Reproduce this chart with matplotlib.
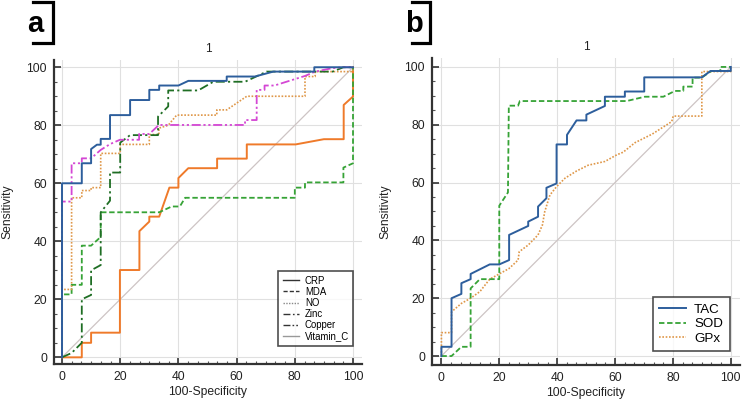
import matplotlib
matplotlib.use("Agg")
import matplotlib.pyplot as plt
from matplotlib.lines import Line2D
from matplotlib.ticker import MultipleLocator

plt.rcParams['font.family'] = ['Liberation Sans', 'DejaVu Sans']

# ---------------- Panel a data ----------------
crp_x = [0, 0, 6.8, 6.8, 10, 10, 12, 13.3, 13.3, 16.5, 16.5, 23.4, 23.4, 30, 30, 33.4, 33.4, 40, 43.4, 56.6, 56.6, 66.3, 72.6, 86.7, 86.7, 100]
crp_y = [0, 60, 60, 66.9, 66.9, 71.8, 73.3, 73.3, 75.3, 75.3, 83.5, 83.5, 88.7, 88.7, 92.2, 92.2, 93.7, 93.7, 95.3, 95.3, 96.8, 96.8, 98.5, 98.5, 100, 100]

mda_x = [0, 0, 3.3, 3.3, 6.8, 6.8, 10, 13.3, 13.3, 33.4, 37.7, 40.5, 42.3, 80, 80, 83.5, 83.5, 96.7, 96.7, 100, 100]
mda_y = [0, 21.7, 21.7, 25, 25, 38.5, 38.5, 41.5, 50, 50, 52, 52, 55, 55, 58.5, 58.5, 60.3, 60.3, 65.4, 66.9, 100]

no_x = [0, 0, 3.3, 3.3, 6.8, 6.8, 10, 10, 13.3, 13.3, 20, 20, 30, 30, 33.3, 33.3, 36.5, 39.4, 53.2, 53.2, 56.6, 63.5, 83.5, 83.5, 87, 87, 100, 100]
no_y = [0, 23.4, 23.4, 55, 55, 57.5, 57.5, 58.5, 58.5, 70.3, 70.3, 73.4, 73.4, 76.8, 76.8, 79, 80, 83.5, 83.5, 85.3, 85.3, 90, 90, 96.8, 96.8, 98.5, 98.5, 100]

zinc_x = [0, 3.3, 6.8, 6.8, 10, 10, 13.3, 13.3, 16.5, 16.5, 20, 20, 23.4, 33, 33, 36.5, 36.5, 46.8, 52, 62.9, 70.3, 93, 96.7, 100]
zinc_y = [0, 1.5, 5, 20, 21.5, 30, 31.8, 50, 54, 63.7, 63.7, 74, 76.6, 76.6, 83, 86.5, 92, 92, 95, 95, 98.5, 98.5, 100, 100]

copper_x = [0, 0, 3.3, 3.3, 6.8, 6.8, 10, 13.3, 16.5, 19.9, 26.5, 26.5, 30, 33.3, 62.9, 62.9, 66.9, 66.9, 69.6, 69.6, 73, 83.5, 87, 93, 96.7, 100]
copper_y = [0, 53.7, 53.7, 66.9, 66.9, 68.6, 68.6, 71.5, 73.5, 75, 75, 77, 77, 80.1, 80.1, 81.8, 81.8, 92.2, 92.2, 93.7, 93.7, 97, 98.5, 99.7, 100, 100]

vitc_x = [0, 6.8, 6.8, 10, 10, 19.9, 19.9, 26.6, 26.6, 30, 30, 33.4, 35.4, 36.9, 40, 40, 43.4, 53.3, 53.3, 63.5, 63.5, 80.3, 90, 96.8, 96.8, 100, 100]
vitc_y = [0, 0, 5, 5, 8.5, 8.5, 30.1, 30.1, 43.5, 46.8, 48.5, 48.5, 54.2, 58.5, 58.5, 61.8, 65.2, 65.2, 68.5, 68.5, 73.4, 73.4, 75.2, 75.2, 87, 89.9, 100]

legend_a = ["CRP", "MDA", "NO", "Zinc", "Copper", "Vitamin_C"]

# ---------------- Panel b data ----------------
tac_x = [0, 0, 3.5, 3.5, 6.9, 6.9, 10.1, 10.1, 16.7, 20, 23.4, 23.4, 30, 30, 33.4, 33.4, 36.3, 36.3, 39.8, 39.8, 43.4, 43.4, 46.7, 50.1, 50.1, 56.5, 56.5, 63.4, 63.4, 70.1, 70.1, 90, 93, 100, 100]
tac_y = [0, 3.2, 3.2, 20, 21.5, 25.2, 26.6, 28.4, 31.7, 31.7, 33.2, 41.9, 45, 46.5, 48.2, 51.7, 54.6, 58.2, 59.7, 73.2, 73.2, 76.5, 81.5, 81.5, 83.5, 86.5, 89.7, 89.7, 91.5, 91.5, 96.4, 96.4, 98.6, 98.6, 100]

sod_x = [0, 3.5, 6.9, 10.1, 10.1, 13.3, 20, 20, 23, 23.3, 26.5, 27.1, 64, 70.3, 76.7, 80.7, 83.6, 83.6, 86.8, 86.8, 89.9, 93.3, 96.4, 96.4, 100]
sod_y = [0, 0, 3.2, 3.2, 23.4, 26.6, 26.6, 52, 56.6, 86.6, 86.6, 88.2, 88.2, 89.7, 89.7, 91.7, 91.7, 93.2, 93.2, 96.3, 96.3, 98.6, 98.6, 100, 100]

gpx_x = [0, 0, 3.5, 3.5, 6.9, 10.1, 13.3, 16.7, 20, 23.4, 26.5, 26.9, 30, 33.4, 34.9, 35.7, 37.5, 39.8, 42.7, 46.7, 50.7, 56.5, 60.6, 62.8, 66.9, 72.9, 79.6, 80.1, 90, 90, 100, 100]
gpx_y = [0, 8.1, 8.1, 15.3, 18.2, 20, 22.3, 26.6, 28.4, 30.3, 33.2, 36.1, 38.4, 41.9, 45.3, 49.9, 55.7, 58.6, 61.5, 64, 66, 67.3, 69.6, 70.5, 73.8, 76.8, 81.1, 83, 83, 98.4, 98.4, 100]

legend_b = ["TAC", "SOD", "GPx"]

ref_line = [0, 100]

# ---------------- styles ----------------
BLUE = '#2d5e9c'
GREEN = '#36a336'
DKGREEN = '#1f6e24'
ORANGE = '#ef7a2a'
LORANGE = '#df9748'
MAGENTA = '#d447d4'
DIAG = '#cdc4c4'
SPINE = '#333333'

DASHDOT = (0, (5, 1.8, 1.2, 1.8))
DASHDOTDOT = (0, (5, 1.5, 1.2, 1.5, 1.2, 1.5))

fig = plt.figure(figsize=(7.5, 4.04), dpi=100)
axa = fig.add_axes([0.072, 0.099, 0.4107, 0.7525])
axb = fig.add_axes([0.576, 0.0965, 0.4107, 0.76])


def style_axes(ax, xlim, ylim):
    ax.set_xlim(*xlim)
    ax.set_ylim(*ylim)
    ax.xaxis.set_major_locator(MultipleLocator(20))
    ax.yaxis.set_major_locator(MultipleLocator(20))
    ax.xaxis.set_minor_locator(MultipleLocator(20 / 6))
    ax.yaxis.set_minor_locator(MultipleLocator(5))
    ax.grid(True, which='major', color='#e0e0e0', lw=0.8, zorder=0)
    ax.set_axisbelow(True)
    for s in ['top', 'right']:
        ax.spines[s].set_visible(False)
    for s in ['left', 'bottom']:
        ax.spines[s].set_color(SPINE)
        ax.spines[s].set_linewidth(1.6)
    ax.tick_params(which='major', direction='in', length=5, width=1.2, color=SPINE,
                   labelsize=8.7, pad=5, labelcolor='#222222')
    ax.tick_params(which='minor', direction='in', length=2.5, width=0.8, color='#555555')
    ax.set_title('1', fontsize=8.5, pad=6, color='#222222')
    ax.set_xlabel('100-Specificity', fontsize=8.7, color='#222222')
    ax.set_ylabel('Sensitivity', fontsize=8.7, color='#222222')
    ax.xaxis.set_label_coords(0.5, -0.072)
    ax.yaxis.set_label_coords(-0.133, 0.5)


style_axes(axa, (-2.75, 103.1), (-2.3, 102.5))
style_axes(axb, (-3.25, 103.2), (-3.1, 103.1))

# Panel a curves
axa.plot(ref_line, ref_line, color=DIAG, lw=0.9, zorder=1)
axa.plot(vitc_x, vitc_y, color=ORANGE, lw=1.4, zorder=2)
axa.plot(mda_x, mda_y, color=GREEN, lw=1.3, ls=(0, (3, 1.5)), zorder=2)
axa.plot(no_x, no_y, color=LORANGE, lw=1.2, ls=(0, (1, 1)), zorder=3)
axa.plot(zinc_x, zinc_y, color=DKGREEN, lw=1.3, ls=DASHDOT, zorder=3)
axa.plot(copper_x, copper_y, color=MAGENTA, lw=1.3, ls=DASHDOTDOT, zorder=3)
axa.plot(crp_x, crp_y, color=BLUE, lw=1.4, zorder=4)

handles_a = [
    Line2D([], [], color='#333333', lw=1.0, ls='-'),
    Line2D([], [], color='#333333', lw=1.0, ls=(0, (3, 1.5))),
    Line2D([], [], color='#888888', lw=1.0, ls=(0, (1, 1))),
    Line2D([], [], color='#333333', lw=1.0, ls=DASHDOT),
    Line2D([], [], color='#333333', lw=1.0, ls=DASHDOTDOT),
    Line2D([], [], color='#999999', lw=1.0, ls='-'),
]
leg_a = axa.legend(handles_a, legend_a, loc='lower right', bbox_to_anchor=(0.972, 0.06),
                   borderaxespad=0, fontsize=6.9, handlelength=1.7, handletextpad=0.6,
                   labelspacing=0.12, frameon=True, fancybox=False, borderpad=0.45)
leg_a.get_frame().set_edgecolor('#222222')
leg_a.get_frame().set_linewidth(1.2)

# Panel b curves
axb.plot(ref_line, ref_line, color=DIAG, lw=0.9, zorder=1)
axb.plot(gpx_x, gpx_y, color=LORANGE, lw=1.2, ls=(0, (1, 1)), zorder=2, label=legend_b[2])
axb.plot(sod_x, sod_y, color=GREEN, lw=1.3, ls=(0, (3, 1.5)), zorder=3, label=legend_b[1])
axb.plot(tac_x, tac_y, color=BLUE, lw=1.4, zorder=4, label=legend_b[0])

h, l = axb.get_legend_handles_labels()
order = [2, 1, 0]
leg_b = axb.legend([h[i] for i in order], [l[i] for i in order], loc='lower right',
                   bbox_to_anchor=(0.966, 0.045), borderaxespad=0, fontsize=9.6,
                   handlelength=2.0, handletextpad=0.6, labelspacing=0.15,
                   frameon=True, fancybox=False, borderpad=0.5)
leg_b.get_frame().set_edgecolor('#222222')
leg_b.get_frame().set_linewidth(1.2)

# Panel letters with brackets
def panel_label(letter, x_text, x_bar, x_left):
    fig.text(x_text / 750, 1 - 31.5 / 404, letter, fontsize=21, fontweight='bold',
             ha='center', va='baseline', color='black')
    y_top = 1 - 1.5 / 404
    y_bot = 1 - 43 / 404
    fig.add_artist(Line2D([x_left / 750, x_bar / 750, x_bar / 750, x_left / 750],
                          [y_top, y_top, y_bot, y_bot], color='black', lw=2.3,
                          solid_joinstyle='miter'))

panel_label('a', 35.5, 52.5, 33)
panel_label('b', 414, 430.5, 411.5)

fig.savefig('out.png', dpi=100)
